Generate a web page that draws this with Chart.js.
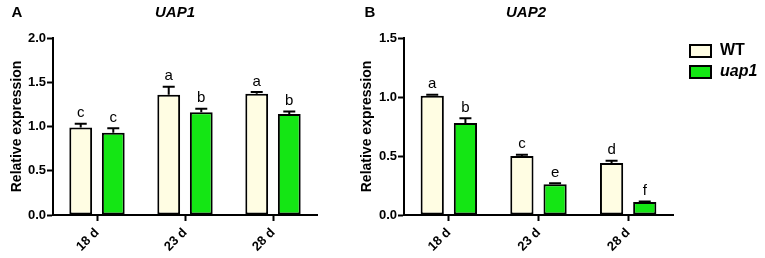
<!DOCTYPE html>
<html lang="en">
<head>
    <meta charset="UTF-8">
    <title>UAP1 / UAP2 relative expression</title>
    <style>
        body {
            margin: 0;
            background: #fff;
            width: 765px;
            height: 258px;
            position: relative;
            overflow: hidden;
        }
        canvas {
            position: absolute;
            top: 0;
        }
        #chartA { left: 0; }
        #chartB { left: 340px; }
    </style>
</head>
<body>
    <canvas id="chartA" width="335" height="258"></canvas>
    <canvas id="chartB" width="425" height="258"></canvas>

    <script src="https://cdn.jsdelivr.net/npm/chart.js"></script>
    <script>
        // data
        const days = ['18 d', '23 d', '28 d'];
        const seriesNames = ['WT', 'uap1'];

        const uap1WT = [0.99, 1.36, 1.37];
        const uap1WTErr = [0.04, 0.09, 0.02];
        const uap1Mut = [0.93, 1.16, 1.14];
        const uap1MutErr = [0.05, 0.04, 0.03];
        const uap1WTLetters = ['c', 'a', 'a'];
        const uap1MutLetters = ['c', 'b', 'b'];

        const uap2WT = [1.01, 0.50, 0.44];
        const uap2WTErr = [0.01, 0.01, 0.02];
        const uap2Mut = [0.78, 0.26, 0.11];
        const uap2MutErr = [0.04, 0.01, 0.005];
        const uap2WTLetters = ['a', 'c', 'd'];
        const uap2MutLetters = ['b', 'e', 'f'];

        const yTicksA = [0, 0.5, 1.0, 1.5, 2.0];
        const yTicksB = [0, 0.5, 1.0, 1.5];

        const wtColor = '#FFFDE3';
        const mutColor = '#14E614';
        const font = "'Liberation Sans', Arial, sans-serif";

        // error bars, group letters, panel label, title and legend
        const decorPlugin = {
            id: 'decor',
            afterDatasetsDraw(chart) {
                const ctx = chart.ctx;
                const y = chart.scales.y;
                ctx.save();
                chart.data.datasets.forEach((ds, i) => {
                    const meta = chart.getDatasetMeta(i);
                    meta.data.forEach((bar, j) => {
                        const top = y.getPixelForValue(ds.data[j] + ds.errors[j]);
                        ctx.strokeStyle = '#000';
                        ctx.lineWidth = 2;
                        ctx.beginPath();
                        ctx.moveTo(bar.x, bar.y);
                        ctx.lineTo(bar.x, top);
                        ctx.moveTo(bar.x - 6, top);
                        ctx.lineTo(bar.x + 6, top);
                        ctx.stroke();

                        ctx.fillStyle = '#000';
                        ctx.font = '15px ' + font;
                        ctx.textAlign = 'center';
                        ctx.textBaseline = 'bottom';
                        ctx.fillText(ds.letters[j], bar.x, top - 3);
                    });
                });
                ctx.restore();
            },
            afterDraw(chart, args, opts) {
                const ctx = chart.ctx;
                ctx.save();
                ctx.fillStyle = '#000';
                ctx.textBaseline = 'middle';

                ctx.font = 'bold 15px ' + font;
                ctx.textAlign = 'center';
                ctx.fillText(opts.panel, opts.panelX, 13);

                ctx.font = 'italic bold 15px ' + font;
                ctx.fillText(opts.title, opts.titleX, 13);

                if (opts.legend) {
                    ctx.textAlign = 'left';
                    chart.data.datasets.forEach((ds, i) => {
                        const top = 45 + i * 21;
                        ctx.fillStyle = ds.backgroundColor;
                        ctx.fillRect(opts.legendX, top, 21, 12);
                        ctx.strokeStyle = '#000';
                        ctx.lineWidth = 2;
                        ctx.strokeRect(opts.legendX, top, 21, 12);
                        ctx.fillStyle = '#000';
                        ctx.font = (i === 1 ? 'italic ' : '') + 'bold 16px ' + font;
                        ctx.fillText(ds.label, opts.legendX + 30, top + 6);
                    });
                }
                ctx.restore();
            }
        };

        function makeChart(id, wt, wtErr, wtLetters, mut, mutErr, mutLetters, yTicks, axisWidth, rightPad, titlePad, decor) {
            const ctx = document.getElementById(id).getContext('2d');
            return new Chart(ctx, {
                type: 'bar',
                data: {
                    labels: days,
                    datasets: [{
                        label: seriesNames[0],
                        data: wt,
                        errors: wtErr,
                        letters: wtLetters,
                        backgroundColor: wtColor,
                        borderColor: '#000',
                        borderWidth: 2,
                        borderSkipped: false,
                        categoryPercentage: 0.74,
                        barPercentage: 0.7
                    }, {
                        label: seriesNames[1],
                        data: mut,
                        errors: mutErr,
                        letters: mutLetters,
                        backgroundColor: mutColor,
                        borderColor: '#000',
                        borderWidth: 2,
                        borderSkipped: false,
                        categoryPercentage: 0.74,
                        barPercentage: 0.7
                    }]
                },
                options: {
                    responsive: false,
                    animation: false,
                    layout: {
                        padding: { left: 0, top: 38, right: rightPad, bottom: 0 }
                    },
                    scales: {
                        x: {
                            offset: true,
                            grid: {
                                offset: false,
                                drawOnChartArea: false,
                                tickLength: 6,
                                tickWidth: 2,
                                tickColor: '#000'
                            },
                            border: { color: '#000', width: 2 },
                            ticks: {
                                color: '#000',
                                font: { family: font, size: 13, weight: 'bold' },
                                minRotation: 45,
                                maxRotation: 45,
                                autoSkip: false,
                                padding: 4
                            },
                            afterFit(scale) { scale.height = 43; }
                        },
                        y: {
                            min: 0,
                            max: yTicks[yTicks.length - 1],
                            afterBuildTicks(scale) {
                                scale.ticks = yTicks.map(v => ({ value: v }));
                            },
                            grid: {
                                drawOnChartArea: false,
                                tickLength: 6,
                                tickWidth: 2,
                                tickColor: '#000'
                            },
                            border: { color: '#000', width: 2 },
                            ticks: {
                                color: '#000',
                                font: { family: font, size: 13, weight: 'bold' },
                                padding: 1,
                                callback: v => Number(v).toFixed(1)
                            },
                            title: {
                                display: true,
                                text: 'Relative expression',
                                color: '#000',
                                font: { family: font, size: 14, weight: 'bold' },
                                padding: { top: titlePad, bottom: 0 }
                            },
                            afterFit(scale) { scale.width = axisWidth; }
                        }
                    },
                    plugins: {
                        legend: { display: false },
                        tooltip: { enabled: false },
                        decor: decor
                    }
                },
                plugins: [decorPlugin]
            });
        }

        makeChart('chartA', uap1WT, uap1WTErr, uap1WTLetters, uap1Mut, uap1MutErr, uap1MutLetters,
            yTicksA, 53, 18, 9,
            { panel: 'A', panelX: 17, title: 'UAP1', titleX: 175, legend: false });

        makeChart('chartB', uap2WT, uap2WTErr, uap2WTLetters, uap2Mut, uap2MutErr, uap2MutLetters,
            yTicksB, 64, 92, 19,
            { panel: 'B', panelX: 30, title: 'UAP2', titleX: 186, legend: true, legendX: 350 });
    </script>
</body>
</html>
